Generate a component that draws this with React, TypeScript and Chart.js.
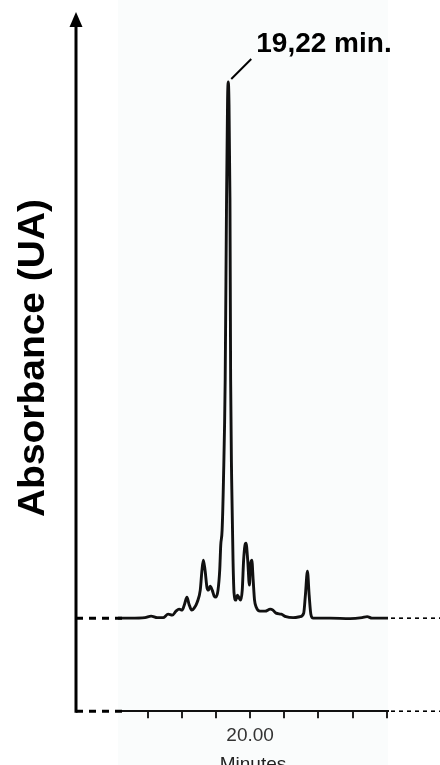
import React, { useEffect, useRef } from "react";
import { Chart, registerables } from "chart.js";

Chart.register(...registerables);

// Retention time (minutes)
const retentionMinutes = [
  16.13, 16.49, 16.92, 17.1, 17.28, 17.45, 17.6, 17.72, 17.83, 17.92, 18.01, 18.08, 18.15, 18.21,
  18.29, 18.36, 18.45, 18.54, 18.59, 18.63, 18.68, 18.74, 18.78, 18.83, 18.89, 18.95, 19.0, 19.06,
  19.11, 19.14, 19.18, 19.22, 19.27, 19.31, 19.34, 19.36, 19.38, 19.41, 19.43, 19.46, 19.5, 19.53,
  19.58, 19.63, 19.68, 19.72, 19.77, 19.81, 19.85, 19.88, 19.93, 19.98, 20.01, 20.05, 20.09, 20.13,
  20.18, 20.29, 20.44, 20.59, 20.67, 20.76, 20.91, 21.05, 21.26, 21.46, 21.57, 21.62, 21.68, 21.73,
  21.78, 21.85, 22.34, 22.93, 23.28, 23.43, 23.57, 24.04,
];

// Absorbance (AU, baseline = 0)
const absorbanceAU = [
  0, 0, 0.0005, 0.002, 0.0005, 0.0005, 0.004, 0.003, 0.007, 0.009, 0.008, 0.014, 0.021, 0.014,
  0.008, 0.01, 0.016, 0.028, 0.048, 0.058, 0.048, 0.03, 0.028, 0.032, 0.028, 0.022, 0.021, 0.028,
  0.048, 0.073, 0.088, 0.138, 0.238, 0.418, 0.518, 0.536, 0.518, 0.418, 0.238, 0.138, 0.058, 0.025,
  0.018, 0.023, 0.02, 0.018, 0.028, 0.058, 0.073, 0.075, 0.058, 0.033, 0.053, 0.058, 0.038, 0.018,
  0.011, 0.007, 0.007, 0.009, 0.008, 0.005, 0.004, 0.0015, 0.0005, 0.0015, 0.005, 0.023, 0.047, 0.023,
  0.004, 0, 0, -0.0005, 0.0005, 0.0015, 0, 0,
];

const xRange = [16.13, 24.04];
const yRange = [-0.093, 0.608];
const labeledTick = 20;
const labeledTickText = "20.00";
const xAxisTitle = "Minutes";
const yAxisTitle = "Absorbance (UA)";
const peakLabel = "19,22 min.";
const peakPoint = [19.36, 0.536];

const FONT = "'Liberation Sans', Arial, Helvetica, sans-serif";

const decorPlugin = {
  id: "decor",
  beforeDraw(chart: any) {
    const { ctx, chartArea } = chart;
    const { left, right } = chartArea;
    ctx.save();
    ctx.fillStyle = "#ffffff";
    ctx.fillRect(0, 0, chart.width, chart.height);
    ctx.fillStyle = "#fafcfc";
    ctx.fillRect(left, 0, right - left, chart.height);
    ctx.restore();
  },
  afterDraw(chart: any) {
    const { ctx, chartArea } = chart;
    const { left, right, bottom } = chartArea;
    const xs = chart.scales.x;
    const ys = chart.scales.y;
    const base = ys.getPixelForValue(0);
    const axisX = left - 42;

    ctx.save();
    // vertical axis with arrow
    ctx.strokeStyle = "#000";
    ctx.fillStyle = "#000";
    ctx.lineWidth = 3;
    ctx.setLineDash([]);
    ctx.beginPath();
    ctx.moveTo(axisX, 24);
    ctx.lineTo(axisX, bottom + 1.5);
    ctx.stroke();
    ctx.beginPath();
    ctx.moveTo(axisX, 12);
    ctx.lineTo(axisX - 6.5, 27);
    ctx.lineTo(axisX + 6.5, 27);
    ctx.closePath();
    ctx.fill();

    // left thick dashes
    ctx.setLineDash([7, 6]);
    ctx.lineWidth = 3;
    [base, bottom].forEach((y) => {
      ctx.beginPath();
      ctx.moveTo(axisX, y);
      ctx.lineTo(left + 4, y);
      ctx.stroke();
    });

    // right thin dotted lines
    ctx.setLineDash([4, 4]);
    ctx.lineWidth = 1.6;
    [base, bottom].forEach((y) => {
      ctx.beginPath();
      ctx.moveTo(right + 3, y);
      ctx.lineTo(chart.width, y);
      ctx.stroke();
    });

    // peak leader line + label
    const px = xs.getPixelForValue(peakPoint[0]);
    const py = ys.getPixelForValue(peakPoint[1]);
    ctx.setLineDash([]);
    ctx.lineWidth = 2;
    ctx.beginPath();
    ctx.moveTo(px + 3, py - 3);
    ctx.lineTo(px + 23, py - 23);
    ctx.stroke();
    ctx.font = `bold 28px ${FONT}`;
    ctx.textAlign = "left";
    ctx.textBaseline = "alphabetic";
    ctx.fillText(peakLabel, px + 28, py - 30);

    // y axis title
    ctx.translate(44, 358);
    ctx.rotate(-Math.PI / 2);
    ctx.font = `bold 37px ${FONT}`;
    const w = ctx.measureText(yAxisTitle).width;
    ctx.scale(318 / w, 1);
    ctx.textAlign = "center";
    ctx.fillText(yAxisTitle, 0, 0);
    ctx.restore();
  },
};

export default function App() {
  const ref = useRef<HTMLCanvasElement | null>(null);

  useEffect(() => {
    document.body.style.margin = "0";
    const canvas = ref.current;
    if (!canvas) return;
    const chart = new Chart(canvas, {
      type: "line",
      data: {
        datasets: [
          {
            data: retentionMinutes.map((x, i) => ({ x, y: absorbanceAU[i] })),
            borderColor: "#111111",
            borderWidth: 2.9,
            pointRadius: 0,
            fill: false,
            cubicInterpolationMode: "monotone",
          },
        ],
      },
      options: {
        responsive: false,
        animation: false,
        devicePixelRatio: 1,
        layout: { padding: { left: 118, right: 52, top: 10, bottom: -9 } },
        plugins: { legend: { display: false }, tooltip: { enabled: false } },
        scales: {
          x: {
            type: "linear",
            min: xRange[0],
            max: xRange[1],
            border: { display: true, color: "#111", width: 2 },
            grid: { drawOnChartArea: false, drawTicks: true, tickLength: 7, color: "#222", lineWidth: 2 },
            ticks: {
              stepSize: 1,
              includeBounds: false,
              autoSkip: false,
              maxRotation: 0,
              padding: 6,
              color: "#333",
              font: { family: FONT, size: 19 },
              callback: (v: any) => (Math.abs(Number(v) - labeledTick) < 1e-6 ? labeledTickText : ""),
            },
            title: {
              display: true,
              text: xAxisTitle,
              color: "#222",
              font: { family: FONT, size: 19, lineHeight: 1 },
              padding: { top: 2, bottom: 0 },
            },
          },
          y: { type: "linear", display: false, min: yRange[0], max: yRange[1] },
        },
      },
      plugins: [decorPlugin],
    } as any);
    return () => chart.destroy();
  }, []);

  return <canvas ref={ref} width={440} height={765} style={{ display: "block" }} />;
}
